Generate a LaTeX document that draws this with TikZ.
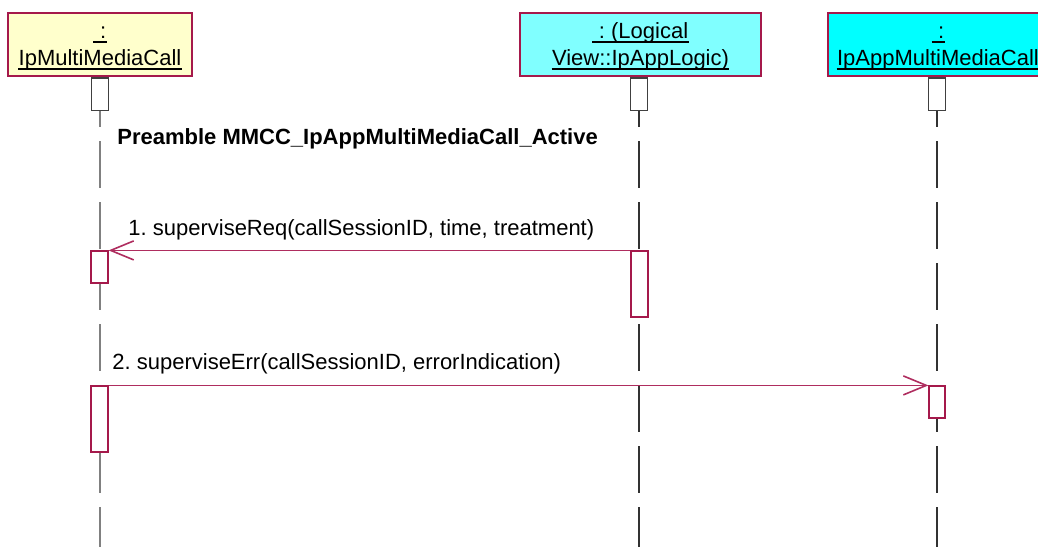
\documentclass[tikz,border=0pt]{standalone}
\usepackage{fontspec}
\setmainfont{Liberation Sans}
\usetikzlibrary{arrows.meta}
\definecolor{bord}{RGB}{165,25,75}
\definecolor{msgc}{RGB}{175,45,95}
\definecolor{yel}{RGB}{255,255,204}
\definecolor{lcyan}{RGB}{128,255,255}
\definecolor{cyanb}{RGB}{0,255,255}
\definecolor{lifea}{RGB}{128,128,128}
\definecolor{lifeb}{RGB}{50,50,50}
\frenchspacing
\begin{document}
\begin{tikzpicture}[x=0.5pt,y=-0.5pt,
  font=\fontsize{11}{13}\selectfont,
  hdr/.style={draw=bord, line width=0.8pt, minimum height=31.5pt, inner sep=0},
  txt/.style={inner sep=0, anchor=base},
  lbl/.style={inner sep=0, anchor=base west},
  ulline/.style={line width=0.65pt, black},
  hbox/.style={draw=black!75, fill=white, line width=0.6pt, minimum width=8.3pt, minimum height=16.3pt, inner sep=0},
  act/.style={draw=bord, fill=white, line width=0.6pt, minimum width=8.5pt, inner sep=0},
  life/.style={line width=0.75pt, dash pattern=on 23.5pt off 7pt, dash phase=15.5pt},
  msg/.style={draw=msgc, line width=0.5pt, -{Straight Barb[length=11.5pt,width=9.5pt,line width=0.8pt]}}
]
\useasboundingbox (0,0) rectangle (1038,547);
\clip (0,0) rectangle (1038,547);
% header boxes
\node[hdr, fill=yel, minimum width=92pt] (P1) at (100,44.5) {};
\node[hdr, fill=lcyan, minimum width=120.5pt] (P2) at (640.5,44.5) {};
\node[hdr, fill=cyanb, minimum width=110pt] (P3) at (938,44.5) {};
% header texts
\node[txt] (t1a) at (100,38) {\ :\ };
\node[txt] (t1b) at (100,65) {IpMultiMediaCall};
\node[txt] (t2a) at (640.5,38) {\ : (Logical\ };
\node[txt] (t2b) at (640.5,65) {View::IpAppLogic)};
\node[txt] (t3a) at (938,38) {\ :\ };
\node[txt] (t3b) at (938,65) {IpAppMultiMediaCall};
\foreach \n in {t1a,t1b,t2a,t2b,t3a,t3b}
  \draw[ulline] ([yshift=-2pt]\n.base west) -- ([yshift=-2pt]\n.base east);
% small header boxes
\node[hbox] (H1) at (100,94.3) {};
\node[hbox] (H2) at (639,94.3) {};
\node[hbox] (H3) at (937,94.3) {};
% lifelines
\coordinate (E1) at (100,547);
\coordinate (E2) at (639,547);
\coordinate (E3) at (937,547);
\draw[life, draw=lifea] (H1.south) -- (E1);
\draw[life, draw=lifeb] (H2.south) -- (E2);
\draw[life, draw=lifeb] (H3.south) -- (E3);
% activations
\node[act, minimum height=16pt] (A1) at (99.5,267) {};
\node[act, minimum height=33pt] (A2) at (639.5,284) {};
\node[act, minimum height=33pt] (A3) at (99.5,419) {};
\node[act, minimum width=8pt, minimum height=16pt] (A4) at (937,402) {};
% messages
\draw[msg] (A2.north west) -- (A1.north east);
\draw[msg] (A3.north east) -- (A4.north west);
% labels
\node[lbl] (pre) at (117,144) {\bfseries Preamble MMCC\_IpAppMultiMediaCall\_Active};
\node[lbl] (m1) at (128,235) {1. superviseReq(callSessionID, time, treatment)};
\node[lbl] (m2) at (112,369) {2. superviseErr(callSessionID, errorIndication)};
\end{tikzpicture}
\end{document}
